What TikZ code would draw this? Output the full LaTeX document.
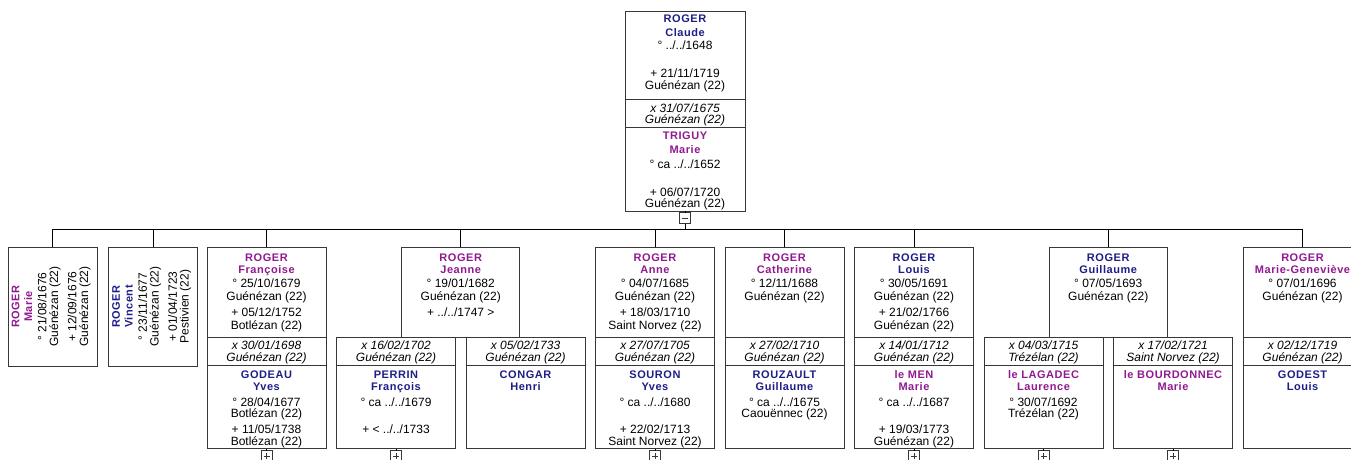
\documentclass[tikz,border=0pt]{standalone}
\usepackage{fontspec}
\setmainfont{Liberation Sans}
\definecolor{blueC}{RGB}{30,30,135}
\definecolor{purpC}{RGB}{145,25,145}
\definecolor{lineC}{RGB}{55,55,55}
\tikzset{
  sect/.style={draw=lineC, line width=1pt, anchor=north west, inner sep=0pt, outer sep=0pt},
  tx/.style={anchor=base, inner sep=0pt, font=\fontsize{12}{14}\selectfont},
  mr/.style={anchor=base, inner sep=0pt, font=\fontsize{12}{14}\selectfont\itshape},
  nm/.style={anchor=base, inner sep=0pt, font=\fontsize{11}{13}\selectfont\bfseries\addfontfeature{LetterSpace=5}},
  mn/.style={nm, text=blueC},
  fn/.style={nm, text=purpC},
  pmbox/.style={draw=lineC, line width=0.8pt, minimum size=11pt, inner sep=0pt, outer sep=0pt, fill=white},
  minusbox/.style={pmbox, path picture={\draw[line width=0.8pt] ([xshift=-3pt]path picture bounding box.center) -- ([xshift=3pt]path picture bounding box.center);}},
  plusbox/.style={pmbox, path picture={\draw[line width=0.8pt] ([xshift=-3pt]path picture bounding box.center) -- ([xshift=3pt]path picture bounding box.center);
     \draw[line width=0.8pt] ([yshift=-3pt]path picture bounding box.center) -- ([yshift=3pt]path picture bounding box.center);}},
  conn/.style={draw=black, line width=1pt},
}
\newcommand\sect[5]{\node[sect, minimum width=#4pt, minimum height=#5pt] (#1) at (#2,#3) {};}
\newcommand\tl[5]{\node[#2] (#1) at (#3,#4) {#5};}
\begin{document}
\begin{tikzpicture}[x=1pt,y=-1pt]
\fill[white] (0,0) rectangle (1351,459);
\useasboundingbox (0,0) rectangle (1351,459);
\clip (0,0) rectangle (1351,459);

% ---------- top couple ----------
\sect{cl}{625}{11}{120}{88}
\sect{clm}{625}{99}{120}{28}
\sect{tr}{625}{127}{120}{84}
\tl{cl1}{mn}{685}{22.6}{ROGER}
\tl{cl2}{mn}{685}{36}{Claude}
\tl{cl3}{tx}{685}{49.8}{° ../../1648}
\tl{cl4}{tx}{685}{77}{+ 21/11/1719}
\tl{cl5}{tx}{685}{89.5}{Guénézan (22)}
\tl{clm1}{mr}{685}{112.3}{x 31/07/1675}
\tl{clm2}{mr}{685}{123}{Guénézan (22)}
\tl{tr1}{fn}{685}{139.8}{TRIGUY}
\tl{tr2}{fn}{685}{153}{Marie}
\tl{tr3}{tx}{685}{168.3}{° ca ../../1652}
\tl{tr4}{tx}{685}{196.3}{+ 06/07/1720}
\tl{tr5}{tx}{685}{207.5}{Guénézan (22)}
\node[minusbox] (minus) at (685,218) {};

% ---------- rotated children ----------
\sect{ma}{8}{247}{89}{119}
\node[fn, rotate=90] (ma1) at (19.4,306.5) {ROGER};
\node[fn, rotate=90] (ma2) at (32,306.5) {Marie};
\node[tx, rotate=90] (ma3) at (46.3,306.5) {° 21/08/1676};
\node[tx, rotate=90] (ma4) at (58,306.5) {Guénézan (22)};
\node[tx, rotate=90] (ma5) at (76.4,306.5) {+ 12/09/1676};
\node[tx, rotate=90] (ma6) at (88,306.5) {Guénézan (22)};

\sect{vi}{108.5}{247}{89}{119}
\node[mn, rotate=90] (vi1) at (119.9,306.5) {ROGER};
\node[mn, rotate=90] (vi2) at (132.5,306.5) {Vincent};
\node[tx, rotate=90] (vi3) at (146.8,306.5) {° 23/11/1677};
\node[tx, rotate=90] (vi4) at (158.5,306.5) {Guénézan (22)};
\node[tx, rotate=90] (vi5) at (176.9,306.5) {+ 01/04/1723};
\node[tx, rotate=90] (vi6) at (188.5,306.5) {Pestivien (22)};

% ---------- Francoise ----------
\sect{fr}{207}{247}{119}{90}
\sect{frm}{207}{337}{119}{28}
\sect{frs}{207}{365}{119}{83.5}
\tl{fr1}{fn}{266.5}{261.3}{ROGER}
\tl{fr2}{fn}{266.5}{273}{Françoise}
\tl{fr3}{tx}{266.5}{287}{° 25/10/1679}
\tl{fr4}{tx}{266.5}{300}{Guénézan (22)}
\tl{fr5}{tx}{266.5}{316.8}{+ 05/12/1752}
\tl{fr6}{tx}{266.5}{329}{Botlézan (22)}
\tl{frm1}{mr}{266.5}{349.3}{x 30/01/1698}
\tl{frm2}{mr}{266.5}{361}{Guénézan (22)}
\tl{frs1}{mn}{266.5}{378.3}{GODEAU}
\tl{frs2}{mn}{266.5}{390.5}{Yves}
\tl{frs3}{tx}{266.5}{406}{° 28/04/1677}
\tl{frs4}{tx}{266.5}{417.5}{Botlézan (22)}
\tl{frs5}{tx}{266.5}{433}{+ 11/05/1738}
\tl{frs6}{tx}{266.5}{445.5}{Botlézan (22)}
\node[plusbox] (frp) at (266.5,456) {};

% ---------- Jeanne ----------
\sect{je}{401.75}{247}{118}{90}
\tl{je1}{fn}{460.75}{261.3}{ROGER}
\tl{je2}{fn}{460.75}{273}{Jeanne}
\tl{je3}{tx}{460.75}{287}{° 19/01/1682}
\tl{je4}{tx}{460.75}{300}{Guénézan (22)}
\tl{je5}{tx}{460.75}{316.8}{+ ../../1747 >}
\sect{jam}{336.5}{337}{119}{28}
\sect{jas}{336.5}{365}{119}{83.5}
\tl{jam1}{mr}{396}{349.3}{x 16/02/1702}
\tl{jam2}{mr}{396}{361}{Guénézan (22)}
\tl{jas1}{mn}{396}{378.3}{PERRIN}
\tl{jas2}{mn}{396}{390.5}{François}
\tl{jas3}{tx}{396}{406}{° ca ../../1679}
\tl{jas5}{tx}{396}{433}{+ < ../../1733}
\node[plusbox] (jap) at (396,456) {};
\sect{jbm}{466}{337}{119}{28}
\sect{jbs}{466}{365}{119}{83.5}
\tl{jbm1}{mr}{525.5}{349.3}{x 05/02/1733}
\tl{jbm2}{mr}{525.5}{361}{Guénézan (22)}
\tl{jbs1}{mn}{525.5}{378.3}{CONGAR}
\tl{jbs2}{mn}{525.5}{390.5}{Henri}

% ---------- Anne ----------
\sect{an}{595.5}{247}{119}{90}
\sect{anm}{595.5}{337}{119}{28}
\sect{ans}{595.5}{365}{119}{83.5}
\tl{an1}{fn}{655}{261.3}{ROGER}
\tl{an2}{fn}{655}{273}{Anne}
\tl{an3}{tx}{655}{287}{° 04/07/1685}
\tl{an4}{tx}{655}{300}{Guénézan (22)}
\tl{an5}{tx}{655}{316.8}{+ 18/03/1710}
\tl{an6}{tx}{655}{329}{Saint Norvez (22)}
\tl{anm1}{mr}{655}{349.3}{x 27/07/1705}
\tl{anm2}{mr}{655}{361}{Guénézan (22)}
\tl{ans1}{mn}{655}{378.3}{SOURON}
\tl{ans2}{mn}{655}{390.5}{Yves}
\tl{ans3}{tx}{655}{406}{° ca ../../1680}
\tl{ans5}{tx}{655}{433}{+ 22/02/1713}
\tl{ans6}{tx}{655}{445.5}{Saint Norvez (22)}
\node[plusbox] (anp) at (655,456) {};

% ---------- Catherine ----------
\sect{ca}{725}{247}{119}{90}
\sect{cam}{725}{337}{119}{28}
\sect{cas}{725}{365}{119}{83.5}
\tl{ca1}{fn}{784.5}{261.3}{ROGER}
\tl{ca2}{fn}{784.5}{273}{Catherine}
\tl{ca3}{tx}{784.5}{287}{° 12/11/1688}
\tl{ca4}{tx}{784.5}{300}{Guénézan (22)}
\tl{cam1}{mr}{784.5}{349.3}{x 27/02/1710}
\tl{cam2}{mr}{784.5}{361}{Guénézan (22)}
\tl{cas1}{mn}{784.5}{378.3}{ROUZAULT}
\tl{cas2}{mn}{784.5}{390.5}{Guillaume}
\tl{cas3}{tx}{784.5}{406}{° ca ../../1675}
\tl{cas4}{tx}{784.5}{417.5}{Caouënnec (22)}

% ---------- Louis ----------
\sect{lo}{854.5}{247}{119}{90}
\sect{lom}{854.5}{337}{119}{28}
\sect{los}{854.5}{365}{119}{83.5}
\tl{lo1}{mn}{914}{261.3}{ROGER}
\tl{lo2}{mn}{914}{273}{Louis}
\tl{lo3}{tx}{914}{287}{° 30/05/1691}
\tl{lo4}{tx}{914}{300}{Guénézan (22)}
\tl{lo5}{tx}{914}{316.8}{+ 21/02/1766}
\tl{lo6}{tx}{914}{329}{Guénézan (22)}
\tl{lom1}{mr}{914}{349.3}{x 14/01/1712}
\tl{lom2}{mr}{914}{361}{Guénézan (22)}
\tl{los1}{fn}{914}{378.3}{le MEN}
\tl{los2}{fn}{914}{390.5}{Marie}
\tl{los3}{tx}{914}{406}{° ca ../../1687}
\tl{los5}{tx}{914}{433}{+ 19/03/1773}
\tl{los6}{tx}{914}{445.5}{Guénézan (22)}
\node[plusbox] (lop) at (914,456) {};

% ---------- Guillaume ----------
\sect{gu}{1049.25}{247}{118}{90}
\tl{gu1}{mn}{1108.25}{261.3}{ROGER}
\tl{gu2}{mn}{1108.25}{273}{Guillaume}
\tl{gu3}{tx}{1108.25}{287}{° 07/05/1693}
\tl{gu4}{tx}{1108.25}{300}{Guénézan (22)}
\sect{gam}{984}{337}{119}{28}
\sect{gas}{984}{365}{119}{83.5}
\tl{gam1}{mr}{1043.5}{349.3}{x 04/03/1715}
\tl{gam2}{mr}{1043.5}{361}{Trézélan (22)}
\tl{gas1}{fn}{1043.5}{378.3}{le LAGADEC}
\tl{gas2}{fn}{1043.5}{390.5}{Laurence}
\tl{gas3}{tx}{1043.5}{406}{° 30/07/1692}
\tl{gas4}{tx}{1043.5}{417.5}{Trézélan (22)}
\node[plusbox] (gap) at (1043.5,456) {};
\sect{gbm}{1113.5}{337}{119}{28}
\sect{gbs}{1113.5}{365}{119}{83.5}
\tl{gbm1}{mr}{1173}{349.3}{x 17/02/1721}
\tl{gbm2}{mr}{1173}{361}{Saint Norvez (22)}
\tl{gbs1}{fn}{1173}{378.3}{le BOURDONNEC}
\tl{gbs2}{fn}{1173}{390.5}{Marie}
\node[plusbox] (gbp) at (1173,456) {};

% ---------- Marie-Genevieve ----------
\sect{mg}{1243}{247}{119}{90}
\sect{mgm}{1243}{337}{119}{28}
\sect{mgs}{1243}{365}{119}{83.5}
\tl{mg1}{fn}{1302.5}{261.3}{ROGER}
\tl{mg2}{fn}{1302.5}{273}{Marie-Geneviève}
\tl{mg3}{tx}{1302.5}{287}{° 07/01/1696}
\tl{mg4}{tx}{1302.5}{300}{Guénézan (22)}
\tl{mgm1}{mr}{1302.5}{349.3}{x 02/12/1719}
\tl{mgm2}{mr}{1302.5}{361}{Guénézan (22)}
\tl{mgs1}{mn}{1302.5}{378.3}{GODEST}
\tl{mgs2}{mn}{1302.5}{390.5}{Louis}

% ---------- connectors ----------
\coordinate (busL) at (52.5,229);
\coordinate (busR) at (1302.5,229);
\draw[conn] (tr.south) -- (minus.north);
\draw[conn] (minus.south) -- (minus.south |- busL);
\draw[conn] (busL) -- (busR);
\foreach \c in {ma,vi,fr,je,an,ca,lo,gu,mg}{
  \draw[conn] (\c.north) -- (\c.north |- busL);
}
\draw[conn] (frs.south) -- (frp.north);
\draw[conn] (jas.south) -- (jap.north);
\draw[conn] (ans.south) -- (anp.north);
\draw[conn] (los.south) -- (lop.north);
\draw[conn] (gas.south) -- (gap.north);
\draw[conn] (gbs.south) -- (gbp.north);
\end{tikzpicture}
\end{document}
